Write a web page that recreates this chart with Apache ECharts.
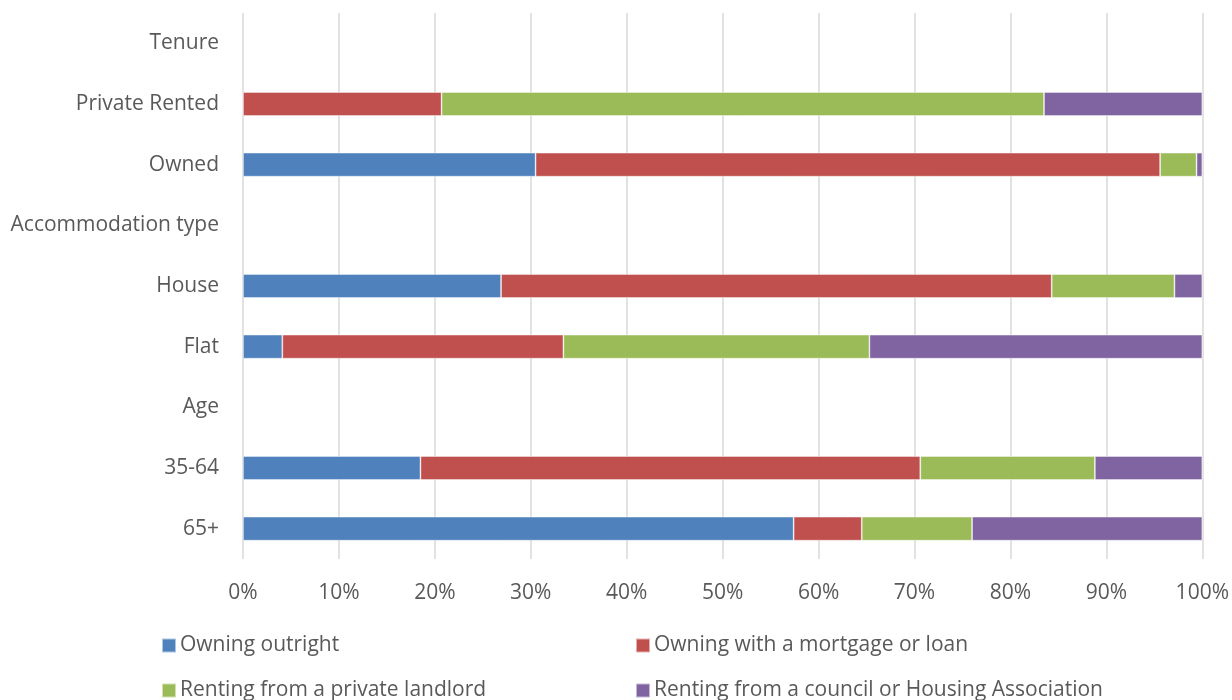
<!DOCTYPE html>
<html>
<head>
<meta charset="utf-8">
<script src="https://cdn.jsdelivr.net/npm/echarts@6/dist/echarts.min.js"></script>
<style>
  html, body { margin: 0; padding: 0; background: #fff; }
  #chart { width: 1232px; height: 700px; }
</style>
</head>
<body>
<div id="chart"></div>
<script>
// Row labels, top to bottom (section headings carry no bars)
const categories = ['Tenure', 'Private Rented', 'Owned', 'Accommodation type', 'House', 'Flat', 'Age', '35-64', '65+'];

// Share of households (%) by tenure type
const owningOutright   = [null, 0,    30.5, null, 26.9, 4.1,  null, 18.5, 57.4];
const owningMortgage   = [null, 20.7, 65.1, null, 57.4, 29.3, null, 52.1, 7.1];
const rentingPrivate   = [null, 62.8, 3.8,  null, 12.8, 31.9, null, 18.2, 11.5];
const rentingCouncil   = [null, 16.5, 0.6,  null, 2.9,  34.7, null, 11.2, 24.0];

const seriesNames = [
  'Owning outright',
  'Owning with a mortgage or loan',
  'Renting from a private landlord',
  'Renting from a council or Housing Association'
];
const seriesValues = [owningOutright, owningMortgage, rentingPrivate, rentingCouncil];
const colors = ['#4F81BD', '#C0504D', '#9BBB59', '#8064A2'];

const FONT = '"Open Sans", sans-serif';
const TEXT = '#595959';

// Legend entries laid out in two columns, two rows
const legendSpots = [
  { left: 161, top: 635 },
  { left: 635, top: 635 },
  { left: 161, top: 680 },
  { left: 635, top: 680 }
];

const chart = echarts.init(document.getElementById('chart'), null, { renderer: 'canvas' });

chart.setOption({
  animation: false,
  backgroundColor: '#ffffff',
  grid: { left: 243, right: 29, top: 13, bottom: 141, containLabel: false },
  xAxis: {
    type: 'value',
    min: 0,
    max: 100,
    interval: 10,
    axisLine: { show: false },
    axisTick: { show: false },
    splitLine: { show: true, lineStyle: { color: '#d9d9d9', width: 1.5 } },
    axisLabel: {
      formatter: '{value}%',
      color: TEXT,
      fontFamily: FONT,
      fontSize: 21,
      margin: 24
    }
  },
  yAxis: {
    type: 'category',
    inverse: true,
    data: categories,
    axisLine: { show: false },
    axisTick: { show: false },
    axisLabel: {
      color: TEXT,
      fontFamily: FONT,
      fontSize: 21,
      margin: 24,
      padding: [3, 0, 0, 0]
    }
  },
  legend: seriesNames.map((name, i) => ({
    left: legendSpots[i].left,
    top: legendSpots[i].top,
    padding: 0,
    itemWidth: 14,
    itemHeight: 14,
    icon: 'rect',
    data: [name],
    textStyle: { color: TEXT, fontFamily: FONT, fontSize: 21, padding: [0, 0, 0, -1] }
  })),
  series: seriesNames.map((name, i) => ({
    name,
    type: 'bar',
    stack: 'total',
    barWidth: 24,
    data: seriesValues[i],
    itemStyle: {
      color: colors[i],
      borderColor: 'rgba(255,255,255,0.55)',
      borderWidth: 0.8
    }
  }))
});
</script>
</body>
</html>
